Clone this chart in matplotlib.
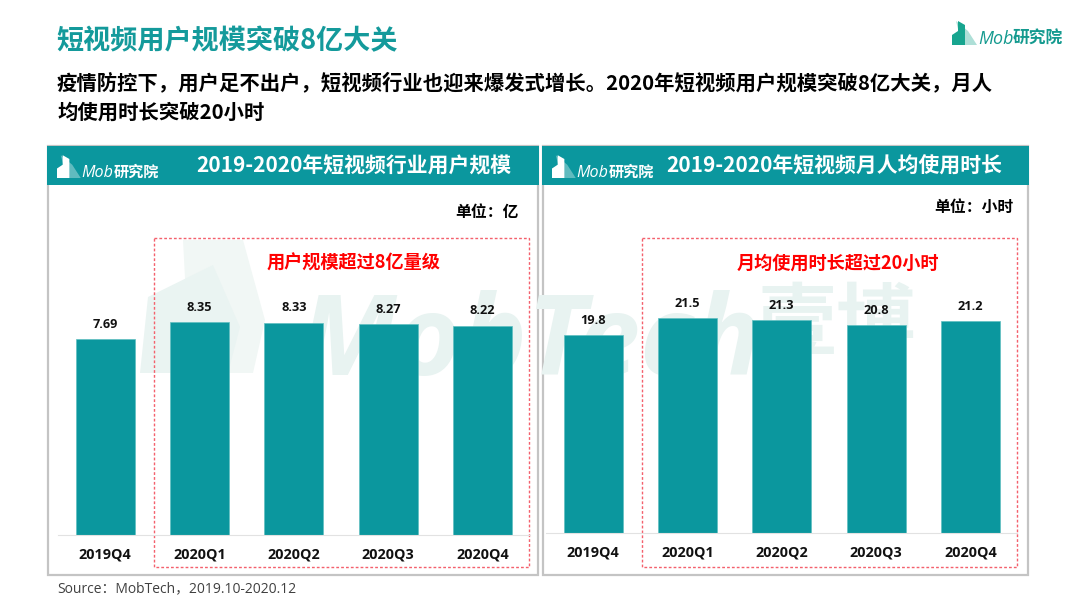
"""Short video user scale and usage time, two bar panels."""

import matplotlib
matplotlib.use("Agg")
import matplotlib.pyplot as plt
from matplotlib.patches import Polygon, Rectangle

CJK = ["Noto Sans CJK SC", "DejaVu Sans"]
LATIN = ["Open Sans", "Noto Sans CJK SC"]
NARROW = ["Liberation Sans Narrow", "Open Sans"]
plt.rcParams["font.family"] = CJK

TEAL = "#0b979e"
GREY = "#c4c4c4"
WATERMARK = "#e8f3f1"

quarters = ["2019Q4", "2020Q1", "2020Q2", "2020Q3", "2020Q4"]
users = [7.69, 8.35, 8.33, 8.27, 8.22]
users_labels = ["7.69", "8.35", "8.33", "8.27", "8.22"]
hours = [19.8, 21.5, 21.3, 20.8, 21.2]
hours_labels = ["19.8", "21.5", "21.3", "20.8", "21.2"]

W, H = 1080, 608
fig = plt.figure(figsize=(W / 100, H / 100), dpi=100, facecolor="white")

# overlay in pixel coordinates for the page furniture
bg = fig.add_axes([0, 0, 1, 1], zorder=0)
bg.set_xlim(0, W)
bg.set_ylim(H, 0)
bg.axis("off")


def logo(x, y, scale, color, text_color, size):
    # little building mark + wordmark
    pts_back = [(x + 4, y - 24), (x + 16, y - 14), (x + 25, y), (x + 10, y)]
    pts_front = [(x, y), (x, y - 10), (x + 6, y - 14), (x + 6, y - 24), (x + 13, y - 20), (x + 13, y)]
    scaled = lambda pts: [(x + (a - x) * scale, y + (b - y) * scale) for a, b in pts]
    bg.add_patch(Polygon(scaled(pts_back), color=color, alpha=0.35, lw=0))
    bg.add_patch(Polygon(scaled(pts_front), color=color, lw=0))
    bg.text(x + 26 * scale, y - 1, "Mob", color=text_color, fontsize=size * 0.83, style="italic",
            family=NARROW, va="baseline", ha="left")
    bg.text(x + 26 * scale + size * 2.25, y - 1, "研究院", color=text_color, fontsize=size * 0.78,
            style="italic", weight="bold", va="baseline", ha="left")


# watermark behind everything
bg.text(298, 375, "MobTech", color=WATERMARK, fontsize=80, style="italic", weight="bold",
        family=NARROW, va="baseline", ha="left")
bg.text(757, 325, "壹博", color=WATERMARK, fontsize=57, weight="bold", va="center", ha="left")
bg.add_patch(Polygon([(183, 240), (243, 240), (265, 320), (253, 373), (190, 373)], color="#f1f7f5", lw=0))
bg.add_patch(Polygon([(140, 373), (148, 297), (213, 265), (240, 327), (228, 373)], color="#eaf4f2", lw=0))

# page titles
bg.text(56, 41, "短视频用户规模突破8亿大关", color="#149a9b", fontsize=19.5, weight="bold",
        va="center", ha="left")
bg.text(57, 83, "疫情防控下，用户足不出户，短视频行业也迎来爆发式增长。2020年短视频用户规模突破8亿大关，月人",
        color="black", fontsize=14.65, weight="bold", va="center", ha="left")
bg.text(57, 112, "均使用时长突破20小时", color="black", fontsize=14.65, weight="bold",
        va="center", ha="left")
logo(952, 45, 1.0, "#17a58f", "#149a8f", 15.5)

panels = [
    (48, 538, "2019-2020年短视频行业用户规模", 354),
    (543, 1028, "2019-2020年短视频月人均使用时长", 834),
]
for x0, x1, title, cx in panels:
    bg.add_patch(Rectangle((x0, 146), x1 - x0, 429, fill=False, ec=GREY, lw=1.6))
    bg.add_patch(Rectangle((x0 - 1, 146), x1 - x0 + 2, 39, fc=TEAL, ec="none"))
    bg.text(cx, 166, title, color="white", fontsize=15, weight="bold", va="center", ha="center")
    logo(x0 + 9, 178, 0.95, "white", "white", 14)

# red dashed highlight boxes and their notes
bg.text(354, 263, "用户规模超过8亿量级", color="#ff0000", fontsize=13.1, weight="bold",
        va="center", ha="center", zorder=6)
bg.text(838, 263, "月均使用时长超过20小时", color="#ff0000", fontsize=13.1, weight="bold",
        va="center", ha="center", zorder=6)
bg.text(519, 212, "单位：亿", color="black", fontsize=11.4, weight="bold", va="center", ha="right")
bg.text(1014, 207, "单位：小时", color="black", fontsize=11.4, weight="bold", va="center", ha="right")
for x0, x1 in [(154, 529), (642, 1017)]:
    bg.add_patch(Rectangle((x0, 237.5), x1 - x0, 329.5, fill=False, ec="#f4606c", lw=1.0,
                           ls=(0, (2, 1.5))))

bg.text(57, 589, "Source：MobTech，2019.10-2020.12", color="#404040", fontsize=10,
        family=LATIN, va="center", ha="left")


def draw_bars(x0, x1, base_px, px_per_unit, values, labels):
    top_px = 230
    ax = fig.add_axes([x0 / W, 1 - base_px / H, (x1 - x0) / W, (base_px - top_px) / H], zorder=2)
    ax.patch.set_alpha(0)
    ax.bar(range(len(values)), values, width=0.626, color=TEAL, edgecolor="#5fbfc0", linewidth=0.5)
    ax.set_xlim(-0.5, 4.5)
    ax.set_ylim(0, (base_px - top_px) / px_per_unit)
    for i, (v, s) in enumerate(zip(values, labels)):
        ax.annotate(s, (i, v), xytext=(0, 6), textcoords="offset points", ha="center", va="bottom",
                    fontsize=9.2, weight="bold", family=LATIN, color="#111111")
    ax.set_xticks(range(len(values)))
    ax.set_xticklabels(quarters, fontsize=10.4, weight="bold", family=LATIN, color="#111111")
    ax.tick_params(axis="x", length=0, pad=9)
    ax.set_yticks([])
    for side in ["top", "left", "right"]:
        ax.spines[side].set_visible(False)
    ax.spines["bottom"].set_color("#e2e2e2")
    ax.spines["bottom"].set_linewidth(0.8)
    return ax


draw_bars(58, 529.5, 535, 25.48, users, users_labels)
draw_bars(546, 1017.5, 532.7, 9.97, hours, hours_labels)

fig.savefig("out.png", dpi=100)
